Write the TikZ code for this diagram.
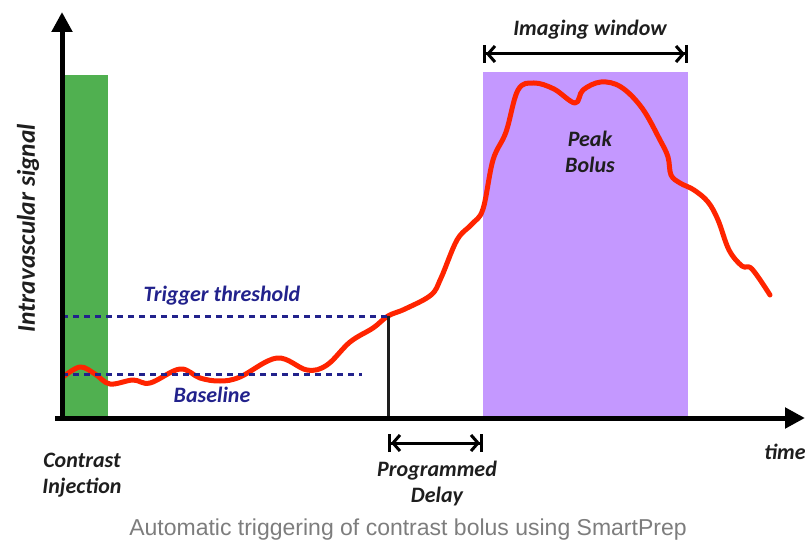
\documentclass[tikz,border=0pt]{standalone}
\usepackage{fontspec}
\setmainfont{Carlito}
\newfontfamily\capfont{Liberation Sans}
\usetikzlibrary{arrows.meta}
\definecolor{injgreen}{RGB}{80,176,80}
\definecolor{windowviolet}{RGB}{196,152,255}
\definecolor{curvered}{RGB}{255,36,0}
\definecolor{labelblue}{RGB}{34,34,140}
\definecolor{labelgray}{RGB}{30,30,30}
\definecolor{capgray}{RGB}{125,125,125}
\tikzstyle{label} = [font=\fontsize{22}{25}\selectfont\bfseries\itshape, text=labelgray, inner sep=0pt]
\tikzstyle{bluelabel} = [label, text=labelblue]
\tikzstyle{axis} = [line width=5pt, -{Triangle[length=20pt, width=20pt]}]
\tikzstyle{level} = [labelblue, line width=3pt, dash pattern=on 6pt off 5pt]
\tikzstyle{span} = [line width=3pt, {Bar[width=18pt]Straight Barb[length=7pt, width=16pt]}-{Straight Barb[length=7pt, width=16pt]Bar[width=18pt]}]
\tikzstyle{signal} = [curvered, line width=5pt, line cap=round, line join=round]

\begin{document}
\begin{tikzpicture}[x=1pt, y=-1pt]
\useasboundingbox (0,0) rectangle (805,545);

% Regions
\fill[injgreen] (62,75) rectangle (108,418);
\fill[windowviolet] (483,72) rectangle (688,418);

% Coordinates
\coordinate (origin) at (62,418);
\coordinate (ytop) at (62,12);
\coordinate (xleft) at (55,418);
\coordinate (xright) at (805,418);
\coordinate (thrstart) at (62,316);
\coordinate (trigger) at (388,316);
\coordinate (trigfoot) at (388,418);
\coordinate (basestart) at (62,374);
\coordinate (baseend) at (362,374);
\coordinate (delaystart) at (388,443);
\coordinate (delayend) at (483,443);
\coordinate (winstart) at (483,54);
\coordinate (winend) at (688,54);

% Nodes
\node (window) [label] at (590,30) {Imaging window};
\node (peak) [label, align=center] at (590,152) {Peak\\[1pt]Bolus};
\node (threshold) [bluelabel] at (222,296) {Trigger threshold};
\node (baseline) [bluelabel] at (212,395) {Baseline};
\node (ylabel) [label, font=\fontsize{25.5}{28}\selectfont\bfseries\itshape, rotate=90] at (28,228) {Intravascular signal};
\node (injection) [label, align=center] at (82,475) {Contrast\\[1pt]Injection};
\node (delay) [label, align=center] at (437,484) {Programmed\\[1pt]Delay};
\node (time) [label] at (785,452) {time};
\node (caption) [font=\capfont\fontsize{23}{27}\selectfont, text=capgray, inner sep=0pt] at (408,530) {Automatic triggering of contrast bolus using SmartPrep};

% Signal
\draw [signal] plot[smooth, tension=0.6] coordinates {(63,377) (80,367) (95,374) (110,384) (133,380) (150,383) (180,369) (200,378) (220,381) (240,377) (277,358) (307,370) (327,365) (350,342) (373,328) (388,316) (405,309) (431,295) (441,278) (457,240) (472,224) (483,209) (493,160) (506,132) (518,90) (534,83) (554,89) (575,103) (583,90) (601,82) (621,87) (642,108) (660,140) (668,157) (671,175) (680,183) (694,190) (708,202) (718,220) (729,250) (742,266) (752,269) (770,295)};

% Arrows
\draw [level] (thrstart) -- (trigger);
\draw [level] (basestart) -- (baseend);
\draw [labelgray, line width=3pt] (trigger) -- (trigfoot);
\draw [axis] (origin) -- (ytop);
\draw [axis] (xleft) -- (xright);
\draw [span] (delaystart) -- (delayend);
\draw [span] (winstart) -- (winend);

\end{tikzpicture}
\end{document}
